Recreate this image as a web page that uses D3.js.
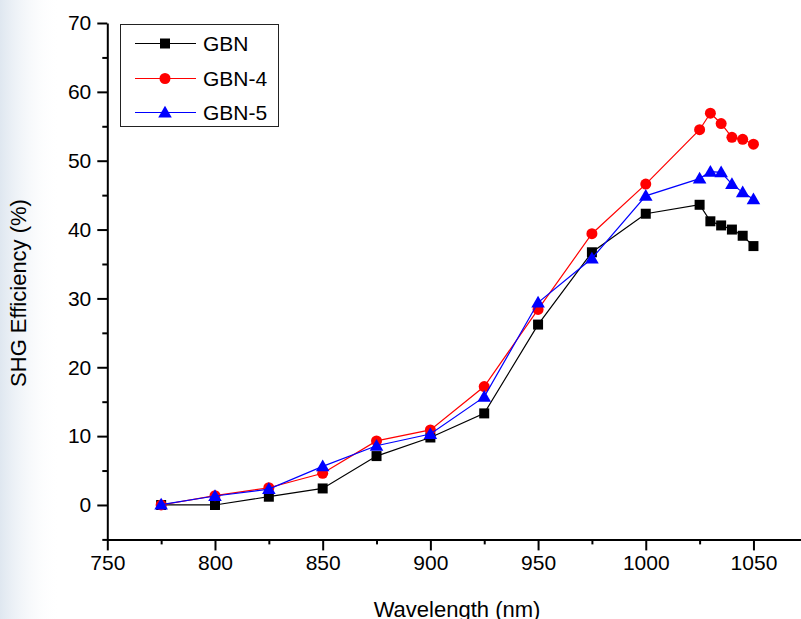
<!DOCTYPE html>
<html>
<head>
<meta charset="utf-8">
<script src="https://cdn.jsdelivr.net/npm/d3@7"></script>
<style>
  html, body { margin: 0; padding: 0; background: #fff; }
  svg { display: block; }
  text { font-family: "Liberation Sans", Arial, Helvetica, sans-serif; fill: #000; }
</style>
</head>
<body>
<svg id="chart" width="801" height="619"></svg>
<script>
const wavelengths = [775, 800, 825, 850, 875, 900, 925, 950, 975, 1000, 1025, 1030, 1035, 1040, 1045, 1050];
const gbn  = [0, 0, 1.2, 2.4, 7.1, 9.8, 13.3, 26.2, 36.7, 42.3, 43.6, 41.2, 40.6, 40.0, 39.1, 37.6];
const gbn4 = [0, 1.35, 2.5, 4.6, 9.3, 10.9, 17.2, 28.4, 39.4, 46.6, 54.5, 56.9, 55.4, 53.4, 53.1, 52.4];
const gbn5 = [0.05, 1.3, 2.3, 5.6, 8.6, 10.3, 15.7, 29.4, 35.8, 44.9, 47.4, 48.4, 48.3, 46.6, 45.4, 44.4];
const seriesNames = ["GBN", "GBN-4", "GBN-5"];
const seriesColors = ["#000000", "#ff0000", "#0000ff"];
const xMajorTicks = [750, 800, 850, 900, 950, 1000, 1050];
const xMinorTicks = [775, 825, 875, 925, 975, 1025, 1075];
const yMajorTicks = [0, 10, 20, 30, 40, 50, 60, 70];
const yMinorTicks = [-5, 5, 15, 25, 35, 45, 55, 65];
const xTitle = "Wavelength (nm)";
const yTitle = "SHG Efficiency (%)";

const svg = d3.select("#chart");

// faint slide background at the left edge
const defs = svg.append("defs");
const grad = defs.append("linearGradient").attr("id", "bg").attr("x1", 0).attr("x2", 1).attr("y1", 0).attr("y2", 0);
grad.append("stop").attr("offset", "0%").attr("stop-color", "#dfe7f0").attr("stop-opacity", 1);
grad.append("stop").attr("offset", "100%").attr("stop-color", "#ffffff").attr("stop-opacity", 0);
svg.append("rect").attr("x", 0).attr("y", 0).attr("width", 60).attr("height", 619).attr("fill", "url(#bg)");

const x = d3.scaleLinear().domain([750, 1075]).range([107.3, 807.3]);
const y = d3.scaleLinear().domain([-5, 70]).range([539.4, 23]);

const fontSize = 21;
const titleSize = 22;

// x axis
const xAxisG = svg.append("g").attr("transform", `translate(0,${y(-5)})`);
xAxisG.call(d3.axisBottom(x).tickValues(xMajorTicks).tickSize(11).tickSizeOuter(0).tickPadding(5).tickFormat(d3.format("d")));
xAxisG.append("g").call(d3.axisBottom(x).tickValues(xMinorTicks).tickSize(5).tickSizeOuter(0).tickFormat(""))
  .select(".domain").remove();
xAxisG.selectAll("path.domain").attr("stroke", "#000").attr("stroke-width", 2);
xAxisG.selectAll(".tick line").attr("stroke", "#000").attr("stroke-width", 2);
xAxisG.selectAll(".tick text").attr("font-size", fontSize).attr("font-family", null);

// y axis
const yAxisG = svg.append("g").attr("transform", `translate(${x(750)},0)`);
yAxisG.call(d3.axisLeft(y).tickValues(yMajorTicks).tickSize(10).tickSizeOuter(0).tickPadding(6).tickFormat(d3.format("d")));
yAxisG.append("g").call(d3.axisLeft(y).tickValues(yMinorTicks).tickSize(5).tickSizeOuter(0).tickFormat(""))
  .select(".domain").remove();
yAxisG.selectAll("path.domain").attr("stroke", "#000").attr("stroke-width", 2);
yAxisG.selectAll(".tick line").attr("stroke", "#000").attr("stroke-width", 2);
yAxisG.selectAll(".tick text").attr("font-size", fontSize).attr("font-family", null);

// titles
svg.append("text").attr("x", 457).attr("y", 617).attr("text-anchor", "middle")
  .attr("font-size", titleSize).text(xTitle);
svg.append("text").attr("transform", "translate(26,293) rotate(-90)").attr("text-anchor", "middle")
  .attr("font-size", titleSize).text(yTitle);

// series
const allSeries = [gbn, gbn4, gbn5];
const symbols = [d3.symbolSquare, d3.symbolCircle, d3.symbolTriangle];
const symSizes = [100, 95, 80];
const line = d3.line().x(d => x(d[0])).y(d => y(d[1]));

allSeries.forEach((vals, i) => {
  const pts = wavelengths.map((w, j) => [w, vals[j]]);
  const g = svg.append("g");
  g.append("path").datum(pts).attr("d", line).attr("fill", "none")
    .attr("stroke", seriesColors[i]).attr("stroke-width", 1.2);
  g.selectAll("path.m").data(pts).enter().append("path").attr("class", "m")
    .attr("transform", d => `translate(${x(d[0])},${y(d[1]) + (i === 2 ? 1 : 0)})`)
    .attr("d", d3.symbol().type(symbols[i]).size(symSizes[i]))
    .attr("fill", seriesColors[i]);
});

// legend
const leg = svg.append("g");
leg.append("rect").attr("x", 120.5).attr("y", 24.5).attr("width", 158).attr("height", 102)
  .attr("fill", "#fff").attr("stroke", "#222").attr("stroke-width", 1);
const legY = [43.5, 78.5, 112.5];
seriesNames.forEach((name, i) => {
  leg.append("line").attr("x1", 135).attr("x2", 196).attr("y1", legY[i]).attr("y2", legY[i])
    .attr("stroke", seriesColors[i]).attr("stroke-width", 1.2);
  leg.append("path").attr("transform", `translate(165,${legY[i] + (i === 2 ? 1 : 0)})`)
    .attr("d", d3.symbol().type(symbols[i]).size(symSizes[i])).attr("fill", seriesColors[i]);
  leg.append("text").attr("x", 203).attr("y", legY[i]).attr("dy", "0.36em")
    .attr("font-size", fontSize).text(name);
});
</script>
</body>
</html>
